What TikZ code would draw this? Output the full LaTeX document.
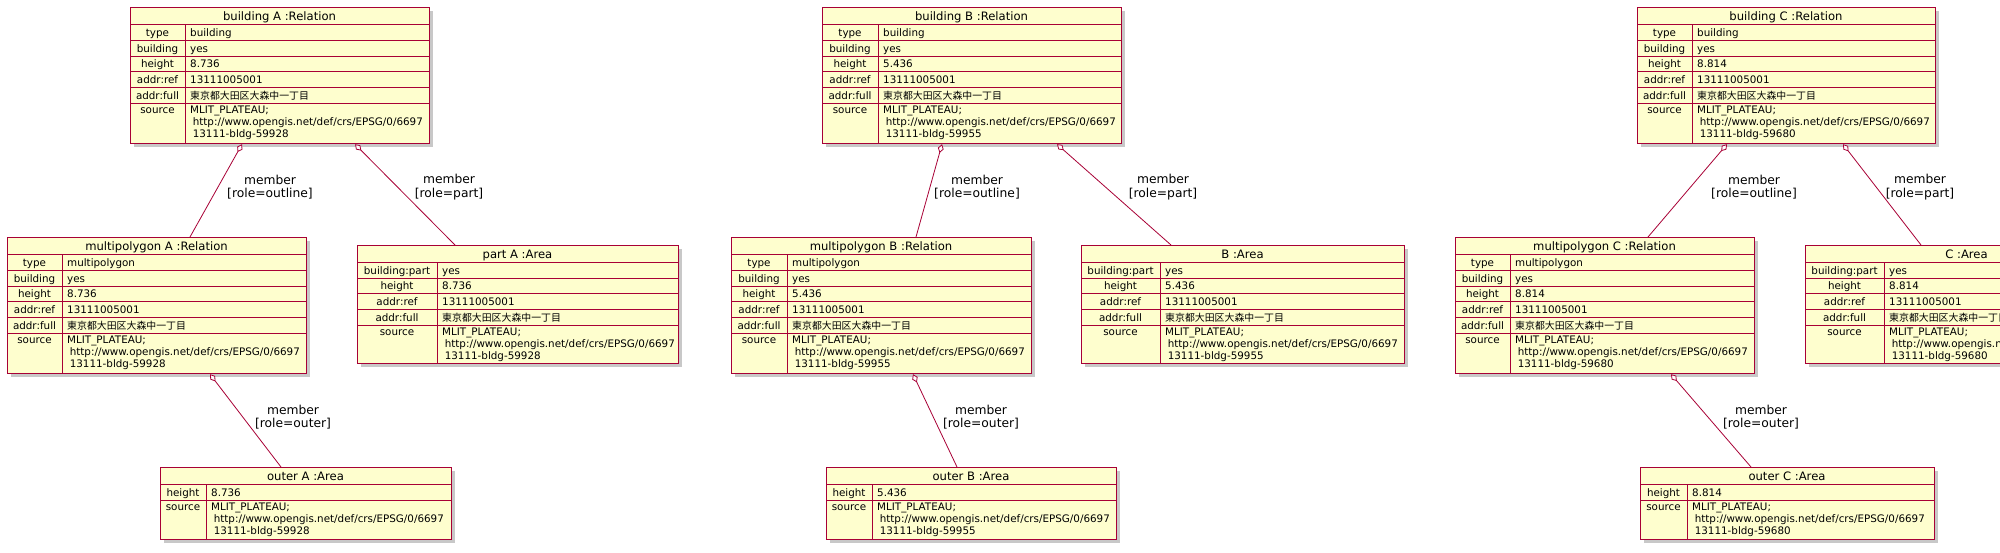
\documentclass[tikz,border=0pt]{standalone}
\usepackage{fontspec}
\setmainfont{DejaVu Sans}
\newfontfamily\cjk{Noto Sans CJK JP}
\usetikzlibrary{arrows.meta,shadows}
\definecolor{umlred}{HTML}{A80036}
\definecolor{umlfill}{HTML}{FEFECE}
\newcommand\rowfont{\fontsize{10.35}{12}\selectfont}
\newcommand\titlefont{\fontsize{11.6}{13}\selectfont}
\newcommand\lblfont{\fontsize{12.3}{13.4}\selectfont}
\newcommand\addrfull{{\cjk\fontsize{9.9}{12}\selectfont 東京都大田区大森中一丁目}}
\tikzset{
  objframe/.style={draw=umlred, fill=umlfill, line width=1.2pt, inner sep=0pt, anchor=north west,
    drop shadow={shadow xshift=3.5pt, shadow yshift=-3.5pt, fill=black!70, opacity=0.3}},
  objline/.style={draw=umlred, line width=0.9pt},
  keytxt/.style={inner sep=0pt, font=\rowfont, anchor=base},
  valtxt/.style={inner sep=0pt, font=\rowfont, anchor=base west},
  titletxt/.style={inner sep=0pt, font=\titlefont, anchor=base},
  member/.style={draw=umlred, line width=0.8pt, {Diamond[length=9pt, width=6pt, fill=white]}-},
  edgelbl/.style={font=\lblfont, align=center, inner sep=0pt},
}
\newcommand\objrow[8]{% name L D R ytop ybot key value
  \draw[objline] (#2,#5) -- (#4,#5);
  \node[keytxt] (#1-k) at ({(#2+#3)/2},{(#5+#6)/2+4}) {#7};
  \node[valtxt] (#1-v) at (#3+5,{(#5+#6)/2+4}) {#8};
}
\newcommand\srcrow[6]{% name L D R ytop id
  \draw[objline] (#2,#5) -- (#4,#5);
  \node[keytxt] (#1-k) at ({(#2+#3)/2},#5+10) {source};
  \node[valtxt] (#1-v1) at (#3+5,#5+10) {MLIT\_PLATEAU;};
  \node[valtxt] (#1-v2) at (#3+7.6,#5+22) {http://www.opengis.net/def/crs/EPSG/0/6697};
  \node[valtxt] (#1-v3) at (#3+7.6,#5+34) {#6};
}
\newcommand\relbox[9]{% name L T R D title type height id
  \node[objframe, minimum width={(#4-#2)*1pt}, minimum height=136pt] (#1) at (#2,#3) {};
  \node[titletxt] (#1-t) at ({(#2+#4)/2},#3+13) {#6};
  \draw[objline] (#5,#3+17) -- (#5,#3+136);
  \objrow{#1-r1}{#2}{#5}{#4}{#3+17}{#3+33}{type}{#7}
  \objrow{#1-r2}{#2}{#5}{#4}{#3+33}{#3+49}{building}{yes}
  \objrow{#1-r3}{#2}{#5}{#4}{#3+49}{#3+64}{height}{#8}
  \objrow{#1-r4}{#2}{#5}{#4}{#3+64}{#3+80}{addr:ref}{13111005001}
  \objrow{#1-r5}{#2}{#5}{#4}{#3+80}{#3+96}{addr:full}{\addrfull}
  \srcrow{#1-r6}{#2}{#5}{#4}{#3+96}{#9}
}
\newcommand\partbox[8]{% name L T R D title height id
  \node[objframe, minimum width={(#4-#2)*1pt}, minimum height=118pt] (#1) at (#2,#3) {};
  \node[titletxt] (#1-t) at ({(#2+#4)/2},#3+13) {#6};
  \draw[objline] (#5,#3+17) -- (#5,#3+118);
  \objrow{#1-r1}{#2}{#5}{#4}{#3+17}{#3+33}{building:part}{yes}
  \objrow{#1-r2}{#2}{#5}{#4}{#3+33}{#3+48}{height}{#7}
  \objrow{#1-r3}{#2}{#5}{#4}{#3+48}{#3+64}{addr:ref}{13111005001}
  \objrow{#1-r4}{#2}{#5}{#4}{#3+64}{#3+80}{addr:full}{\addrfull}
  \srcrow{#1-r5}{#2}{#5}{#4}{#3+80}{#8}
}
\newcommand\outerbox[8]{% name L T R D title height id
  \node[objframe, minimum width={(#4-#2)*1pt}, minimum height=72pt] (#1) at (#2,#3) {};
  \node[titletxt] (#1-t) at ({(#2+#4)/2},#3+13) {#6};
  \draw[objline] (#5,#3+17) -- (#5,#3+72);
  \objrow{#1-r1}{#2}{#5}{#4}{#3+17}{#3+33}{height}{#7}
  \srcrow{#1-r2}{#2}{#5}{#4}{#3+33}{#8}
}
\begin{document}
\begin{tikzpicture}[x=1pt,y=-1pt]
\useasboundingbox[fill=white] (0,0) rectangle (2000,552);
% group A
\relbox{bA}{130}{7}{429}{185}{building A :Relation}{building}{8.736}{13111-bldg-59928}
\relbox{mA}{7}{237}{306}{62}{multipolygon A :Relation}{multipolygon}{8.736}{13111-bldg-59928}
\partbox{pA}{357}{245}{678}{437}{part A :Area}{8.736}{13111-bldg-59928}
\outerbox{oA}{160}{467}{451}{206}{outer A :Area}{8.736}{13111-bldg-59928}
% group B
\relbox{bB}{822}{7}{1121}{878}{building B :Relation}{building}{5.436}{13111-bldg-59955}
\relbox{mB}{731}{237}{1031}{787}{multipolygon B :Relation}{multipolygon}{5.436}{13111-bldg-59955}
\partbox{pB}{1081}{245}{1404}{1160}{B :Area}{5.436}{13111-bldg-59955}
\outerbox{oB}{826}{467}{1116}{872}{outer B :Area}{5.436}{13111-bldg-59955}
% group C
\relbox{bC}{1637}{7}{1935}{1692}{building C :Relation}{building}{8.814}{13111-bldg-59680}
\relbox{mC}{1455}{237}{1754}{1510}{multipolygon C :Relation}{multipolygon}{8.814}{13111-bldg-59680}
\partbox{pC}{1805}{245}{2128}{1884}{C :Area}{8.814}{13111-bldg-59680}
\outerbox{oC}{1640}{467}{1934}{1687}{outer C :Area}{8.814}{13111-bldg-59680}
% connectors
\draw[member] ([xshift=112pt]bA.south west) -- ([xshift=183pt]mA.north west);
\draw[member] ([xshift=225pt]bA.south west) -- ([xshift=98pt]pA.north west);
\draw[member] ([xshift=203pt]mA.south west) -- ([xshift=121pt]oA.north west);
\draw[member] ([xshift=120pt]bB.south west) -- ([xshift=185pt]mB.north west);
\draw[member] ([xshift=235pt]bB.south west) -- ([xshift=90pt]pB.north west);
\draw[member] ([xshift=182pt]mB.south west) -- ([xshift=131pt]oB.north west);
\draw[member] ([xshift=90pt]bC.south west) -- ([xshift=193pt]mC.north west);
\draw[member] ([xshift=206pt]bC.south west) -- ([xshift=116pt]pC.north west);
\draw[member] ([xshift=216pt]mC.south west) -- ([xshift=111pt]oC.north west);
% labels
\node[edgelbl] (lA1) at (270,187) {member\\{}[role=outline]};
\node[edgelbl] (lA2) at (449,187) {member\\{}[role=part]};
\node[edgelbl] (lA3) at (293,417) {member\\{}[role=outer]};
\node[edgelbl] (lB1) at (977,187) {member\\{}[role=outline]};
\node[edgelbl] (lB2) at (1163,187) {member\\{}[role=part]};
\node[edgelbl] (lB3) at (981,417) {member\\{}[role=outer]};
\node[edgelbl] (lC1) at (1754,187) {member\\{}[role=outline]};
\node[edgelbl] (lC2) at (1920,187) {member\\{}[role=part]};
\node[edgelbl] (lC3) at (1761,417) {member\\{}[role=outer]};
\end{tikzpicture}
\end{document}
